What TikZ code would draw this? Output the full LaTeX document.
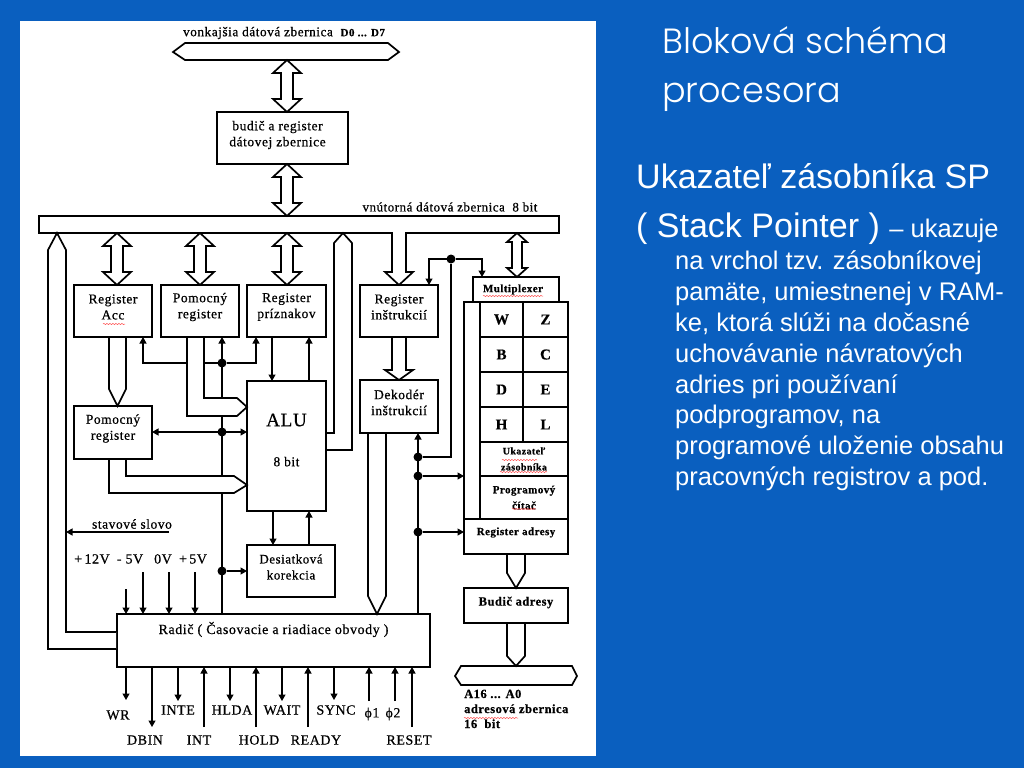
\documentclass[tikz,border=0pt]{standalone}
\usepackage{fontspec}
\usetikzlibrary{arrows.meta,calc,decorations.pathmorphing}
\setmainfont{Liberation Sans}
\newfontfamily\dg[LetterSpace=4,FakeBold=0.6]{Liberation Serif}
\newfontfamily\ttl{Poppins Light}
\definecolor{slideblue}{HTML}{0A5FBF}
\newcommand\fs[2]{\fontsize{#1}{#2}\selectfont}
\tikzset{
  x=1pt,y=-1pt,
  blk/.style={draw=black,line width=2pt,fill=white,inner sep=0pt,outer sep=0pt},
  lab/.style={font=\dg\fs{13.5}{16},align=center,inner sep=0pt,text=black},
  txt/.style={font=\dg\fs{13.5}{16},align=center,inner sep=0pt,text=black},
  sig/.style={txt,font=\dg\fs{14}{16}},
  fat/.style={draw=black,line width=1.7pt,fill=white,line join=miter},
  thin/.style={draw=black,line width=1.2pt},
  arr/.style={thin,-{Triangle[length=6.5pt,width=7pt]}},
  arrs/.style={thin,{Triangle[length=6.5pt,width=7pt]}-{Triangle[length=6.5pt,width=7pt]}},
  dot/.style={circle,fill=black,inner sep=0pt,outer sep=0pt,minimum size=9pt},
  wh/.style={text=white,anchor=base west,inner sep=0pt},
  sq/.style={draw=red!70!white,line width=.5pt,decorate,decoration={snake,amplitude=.6pt,segment length=3pt}},
}
% name, x1, y1, x2, y2, text-shift, text
\newcommand\blk[7]{\node[blk,minimum width={(#4-#2)*1pt},minimum height={(#5-#3)*1pt},
   label={[lab,yshift=#6]center:{#7}}] (#1) at ({(#2+#4)/2},{(#3+#5)/2}) {};}
% double fat arrow: top, bottom, head half-width, shaft half-width, head length
\newcommand\dbl[5]{\draw[fat] let \p1=(#1),\p2=(#2) in
  (\x1,\y1) -- (\x1+#3pt,\y1-#5pt) -- (\x1+#4pt,\y1-#5pt) -- (\x1+#4pt,\y2+#5pt)
  -- (\x1+#3pt,\y2+#5pt) -- (\x1,\y2) -- (\x1-#3pt,\y2+#5pt) -- (\x1-#4pt,\y2+#5pt)
  -- (\x1-#4pt,\y1-#5pt) -- (\x1-#3pt,\y1-#5pt) -- cycle;}
% open fat pointer: start, tip, shaft half-width, head half-width, head length
\newcommand\ptr[5]{\draw[fat] let \p1=(#1),\p2=(#2) in
  (\x1-#3pt,\y1) -- (\x1-#3pt,\y2+#5pt) -- (\x1-#4pt,\y2+#5pt) -- (\x2,\y2)
  -- (\x1+#4pt,\y2+#5pt) -- (\x1+#3pt,\y2+#5pt) -- (\x1+#3pt,\y1);}
\newcommand\sm{\fs{10}{12}\bfseries}
\newcommand\md{\fs{11}{14}\bfseries}
\begin{document}
\begin{tikzpicture}
\useasboundingbox (0,0) rectangle (1024,768);
\fill[slideblue] (0,0) rectangle (1024,768);
\fill[white] (20,21) rectangle (596,756);

% named columns
\coordinate (xA) at (117,0);
\coordinate (xB) at (200,0);
\coordinate (xC) at (287,0);
\coordinate (xD) at (517,0);
\coordinate (xP) at (222,0);
\coordinate (xR) at (418,0);

% blocks
\node[blk,minimum width=520pt,minimum height=17pt] (bus) at (299,224.5) {};
\blk{drv}{217}{112}{348}{164}{3pt,xshift=-5pt}{budič a register\\dátovej zbernice}
\blk{acc}{74}{285}{152}{337}{4pt}{Register\\Acc}
\blk{pom}{161}{285}{239}{337}{4pt}{Pomocný\\register}
\blk{flg}{247}{285}{326}{337}{4pt}{Register\\príznakov}
\blk{ins}{360}{285}{438}{337}{4pt}{Register\\inštrukcií}
\blk{dek}{360}{380}{438}{433}{4pt}{Dekodér\\inštrukcií}
\blk{pomb}{74}{406}{152}{459}{4pt}{Pomocný\\register}
\blk{alu}{247}{381}{326}{511}{6pt}{{\fs{19}{19}ALU}\\[24pt]8 bit}
\blk{dec}{247}{545}{335}{597}{4pt}{{\fs{13}{16}Desiatková}\\{\fs{13}{16}korekcia}}
\blk{rad}{117}{614}{430}{667}{11pt}{{\fs{14}{16}Radič ( Časovacie a riadiace obvody )}}
\blk{mux}{473}{277}{559}{302}{0pt,xshift=-3pt}{{\md Multiplexer}}
\blk{col}{464}{302}{480}{519}{0pt}{}
\blk{rW}{480}{302}{523}{337}{0pt}{{\fs{15}{16}\bfseries W}}
\blk{rZ}{523}{302}{568}{337}{0pt}{{\fs{15}{16}\bfseries Z}}
\blk{rB}{480}{337}{523}{372}{0pt}{{\fs{15}{16}\bfseries B}}
\blk{rC}{523}{337}{568}{372}{0pt}{{\fs{15}{16}\bfseries C}}
\blk{rD}{480}{372}{523}{407}{0pt}{{\fs{15}{16}\bfseries D}}
\blk{rE}{523}{372}{568}{407}{0pt}{{\fs{15}{16}\bfseries E}}
\blk{rH}{480}{407}{523}{442}{0pt}{{\fs{15}{16}\bfseries H}}
\blk{rL}{523}{407}{568}{442}{0pt}{{\fs{15}{16}\bfseries L}}
\blk{sp}{480}{442}{568}{476}{0pt}{{\sm Ukazateľ}\\{\sm zásobníka}}
\blk{pc}{480}{476}{568}{519}{0pt}{{\md Programový}\\{\md čítač}}
\blk{adr}{464}{519}{568}{554}{4pt}{{\md Register adresy}}
\blk{bad}{464}{588}{568}{623}{3pt}{{\fs{12.5}{15}\bfseries Budič adresy}}

% dots
\node[dot] (d1) at (222,363) {};
\node[dot] (d2) at (222,432) {};
\node[dot] (d3) at (222,571) {};
\node[dot] (d4) at (451,259) {};
\node[dot] (d5) at (418,457) {};
\node[dot] (d6) at (418,476) {};
\node[dot] (d7) at (418,532) {};

% thin connectors
\draw[arr] (rad.north -| xP) -- (xP |- pom.south);
\draw[arr] (d1) -| (143,0 |- acc.south);
\draw[arr] (d1) -| (256,0 |- flg.south);
\draw[arrs] (pomb.east |- d2) -- (alu.west |- d2);
\draw[arr] (d3) -- (dec.west |- d3);
\draw[arr] (272,0 |- flg.south) -- (272,0 |- alu.north);
\draw[arr] (309,0 |- alu.north) -- (309,0 |- flg.south);
\draw[arr] (273,0 |- alu.south) -- (273,0 |- dec.north);
\draw[arr] (309,0 |- dec.north) -- (309,0 |- alu.south);
\draw[arr] (rad.north -| xR) -- (xR |- dek.south);
\draw[thin] (d5) -| (d4);
\draw[arr] (d4) -| (429,0 |- ins.north);
\draw[arr] (d4) -| (482,0 |- mux.north);
\draw[arr] (d6) -- (col.west |- d6);
\draw[arr] (d7) -- (adr.west |- d7);
\coordinate (st) at (169,532);
\draw[arr] (st) -- (66,532);
% supplies
\coordinate (v1) at (126,589);
\coordinate (v2) at (143,572);
\coordinate (v3) at (169,572);
\coordinate (v4) at (195,572);
\foreach \v in {v1,v2,v3,v4} \draw[arr] (\v) -- (rad.north -| \v);
% lower signals
\node[sig] (tWR) at (118,715) {WR};
\node[sig] (tDB) at (145,740) {DBIN};
\node[sig] (tIE) at (178,710) {INTE};
\node[sig] (tIN) at (199,740) {INT};
\node[sig] (tHA) at (232,710) {HLDA};
\node[sig] (tHO) at (259,740) {HOLD};
\node[sig] (tWA) at (282,710) {WAIT};
\node[sig] (tRE) at (316,740) {READY};
\node[sig] (tSY) at (336,710) {SYNC};
\node[sig] (tF1) at (372,714) {ϕ1};
\node[sig] (tF2) at (393,714) {ϕ2};
\node[sig] (tRS) at (409,740) {RESET};
\draw[arr] (126,0 |- rad.south) -- (126,700);
\draw[arr] (152,0 |- rad.south) -- (152,727);
\draw[arr] (178,0 |- rad.south) -- (178,701);
\draw[arr] (204,727) -- (204,0 |- rad.south);
\draw[arr] (230,0 |- rad.south) -- (230,701);
\draw[arr] (256,727) -- (256,0 |- rad.south);
\draw[arr] (282,0 |- rad.south) -- (282,701);
\draw[arr] (308,727) -- (308,0 |- rad.south);
\draw[arr] (334,0 |- rad.south) -- (334,700);
\draw[arr] (369,701) -- (369,0 |- rad.south);
\draw[arr] (395,701) -- (395,0 |- rad.south);
\draw[arr] (412,727) -- (412,0 |- rad.south);

% external bus
\draw[fat] (173,52) -- (185,43) -- (388,43) -- (399,52) -- (388,60) -- (185,60) -- cycle;
\coordinate (extS) at (287,60);
\coordinate (adbN) at (516,666);
\draw[fat] (455,676) -- (461,666) -- (572,666) -- (577,676) -- (572,685) -- (461,685) -- cycle;

% fat arrows
\dbl{extS}{xC |- drv.north}{14}{6}{13}
\dbl{xC |- drv.south}{xC |- bus.north}{14}{6}{13}
\dbl{bus.south -| xA}{xA |- acc.north}{14}{6}{13}
\dbl{bus.south -| xB}{xB |- pom.north}{14}{6}{13}
\dbl{bus.south -| xC}{xC |- flg.north}{14}{6}{13}
\dbl{bus.south -| xD}{xD |- mux.north}{10}{5}{9}
\ptr{$(117.5,0 |- acc.south)+(0,1)$}{117.5,0 |- pomb.north}{8.5}{8.5}{17}
\ptr{$(399,0 |- bus.south)+(0,-1)$}{399,0 |- ins.north}{7}{14}{13}
\ptr{$(399,0 |- ins.south)+(0,1)$}{399,0 |- dek.north}{7}{14}{10}
\ptr{$(377,0 |- dek.south)+(0,1)$}{377,0 |- rad.north}{9}{9}{18}
\ptr{$(516,0 |- adr.south)+(0,1)$}{516,0 |- bad.north}{9}{9}{15}
\ptr{$(516,0 |- bad.south)+(0,1)$}{adbN}{9}{9}{10}
% bent pointers
\draw[fat] ($(204,0 |- pom.south)+(0,1)$) |- (237,398) -- (alu.west |- 0,407) -- (237,416) -| ($(187,0 |- pom.south)+(0,1)$);
\draw[fat] ($(126,0 |- pomb.south)+(0,1)$) |- (234,476) -- (alu.west |- 0,485) -- (234,493) -| ($(109,0 |- pomb.south)+(0,1)$);
\draw[fat] ($(alu.east |- 0,433)+(1,0)$) -- (334,433) -- (334,243) -- (343,0 |- bus.south) -- (352,243) -- (352,450) -- ($(alu.east |- 0,450)+(1,0)$);
\draw[fat] ($(rad.west |- 0,649)+(-1,0)$) -- (48,649) -- (48,250) -- (57,0 |- bus.south) -- (66,250) -- (66,632) -- ($(rad.west |- 0,632)+(-1,0)$);

% diagram labels
\node[txt,font=\dg\fs{13.3}{13}] (tExt) at (284,33) {vonkajšia dátová zbernica\ \ {\fs{11}{13}\bfseries D0 ... D7}};
\node[txt,font=\dg\fs{13}{13}] (tInt) at (450,207) {vnútorná dátová zbernica\ \ 8 bit};
\node[txt] (tSt) at (132,524) {stavové slovo};
\node[sig] (t12) at (92,559) {+\,12V};
\node[sig] (t5m) at (130,559) {- 5V};
\node[sig] (t0) at (163,559) {0V};
\node[sig] (t5p) at (193,559) {+\,5V};
\node[txt,anchor=north west,align=left,font=\dg\fs{12.5}{15}\bfseries] (tAd) at (464,689.5) {A16 ... A0\\adresová zbernica\\16\ \ bit};

% spell-check marks
\draw[sq] (483,296) -- (543,296);
\draw[sq] (103,324) -- (125,324);
\draw[sq] (502,460) -- (537,460);
\draw[sq] (500,472) -- (547,472);
\draw[sq] (512,509) -- (536,509);
\draw[sq] (464,718) -- (518,718);

% slide text
\node[wh,font=\ttl\fs{35}{40}] (title1) at (662,53) {Bloková schéma};
\node[wh,font=\ttl\fs{35}{40}] (title2) at (662,102) {procesora};
\node[wh,font=\fs{34}{36}] (h1) at (636,188) {Ukazateľ zásobníka SP};
\node[wh,font=\fs{34}{36}] (h2) at (636,237) {( Stack Pointer ) {\fs{25.5}{28}– ukazuje}};
\foreach \n/\yy/\t in {b1/269/na vrchol tzv. zásobníkovej,b2/300/{pamäte, umiestnenej v RAM-},b3/331/{ke, ktorá slúži na dočasné},b4/362/uchovávanie návratových,b5/393/adries pri používaní,b6/423/{podprogramov, na},b7/454/programové uloženie obsahu,b8/485/pracovných registrov a pod.}
  \node[wh,font=\fs{25.5}{28}] (\n) at (675,\yy) {\t};
\end{tikzpicture}
\end{document}
